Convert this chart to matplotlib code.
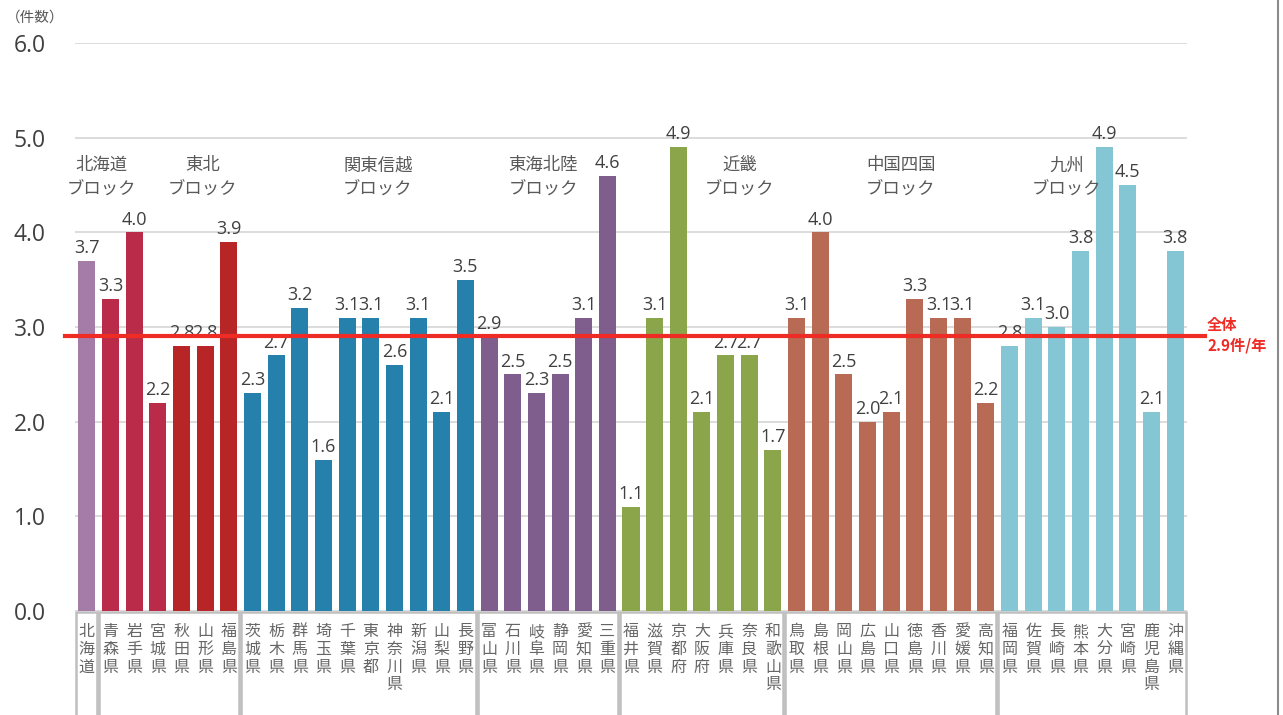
import matplotlib
matplotlib.use("Agg")
import matplotlib.pyplot as plt
import matplotlib.transforms as mtransforms
from matplotlib.patches import Rectangle

plt.rcParams['font.family'] = ['Noto Sans CJK JP', 'DejaVu Sans']
NUM_FONT = ['Open Sans', 'DejaVu Sans']

prefectures = ["北海道",
               "青森県", "岩手県", "宮城県", "秋田県", "山形県", "福島県",
               "茨城県", "栃木県", "群馬県", "埼玉県", "千葉県", "東京都", "神奈川県", "新潟県", "山梨県", "長野県",
               "富山県", "石川県", "岐阜県", "静岡県", "愛知県", "三重県",
               "福井県", "滋賀県", "京都府", "大阪府", "兵庫県", "奈良県", "和歌山県",
               "鳥取県", "島根県", "岡山県", "広島県", "山口県", "徳島県", "香川県", "愛媛県", "高知県",
               "福岡県", "佐賀県", "長崎県", "熊本県", "大分県", "宮崎県", "鹿児島県", "沖縄県"]
values = [3.7,
          3.3, 4.0, 2.2, 2.8, 2.8, 3.9,
          2.3, 2.7, 3.2, 1.6, 3.1, 3.1, 2.6, 3.1, 2.1, 3.5,
          2.9, 2.5, 2.3, 2.5, 3.1, 4.6,
          1.1, 3.1, 4.9, 2.1, 2.7, 2.7, 1.7,
          3.1, 4.0, 2.5, 2.0, 2.1, 3.3, 3.1, 3.1, 2.2,
          2.8, 3.1, 3.0, 3.8, 4.9, 4.5, 2.1, 3.8]
block_names = ["北海道\nブロック", "東北\nブロック", "関東信越\nブロック", "東海北陸\nブロック",
               "近畿\nブロック", "中国四国\nブロック", "九州\nブロック"]
block_sizes = [1, 6, 10, 6, 7, 9, 8]
block_label_x = [0.6, 4.9, 12.3, 19.3, 27.6, 34.4, 41.4]
bar_colors = (["#A57BA8"] + ["#B92B48"] * 3 + ["#B82526"] * 3 + ["#2680AC"] * 10 + ["#7F5E8E"] * 6
              + ["#8BA64A"] * 7 + ["#B86A55"] * 9 + ["#85C6D4"] * 8)
overall = 2.9
yticks = [0.0, 1.0, 2.0, 3.0, 4.0, 5.0, 6.0]

fig = plt.figure(figsize=(12.83, 7.15), dpi=100)
ax = fig.add_axes([75 / 1283, 104 / 715, 1112 / 1283, 568 / 715])
x = list(range(len(values)))
ax.bar(x, values, width=0.72, color=bar_colors, zorder=2)
ax.set_xlim(-0.5, len(values) - 0.5)
ax.set_ylim(0, 6)
ax.set_yticks(yticks)
ax.set_yticklabels([f"{v:.1f}" for v in yticks], fontsize=16.5, color="#404040", family=NUM_FONT)
ax.tick_params(axis='y', length=0, pad=21)
ax.tick_params(axis='x', length=0, labelbottom=False)
for s in ax.spines.values():
    s.set_visible(False)
ax.grid(axis='y', color="#D9D9D9", linewidth=1.3, zorder=0)
ax.set_axisbelow(True)

for xi, v in zip(x, values):
    ax.text(xi, v + 0.04, f"{v:.1f}", ha='center', va='bottom', fontsize=13, color="#404040",
            family=NUM_FONT, zorder=4)

# category labels (vertical)
for xi, name in zip(x, prefectures):
    ax.text(xi, -0.13, "\n".join(name), ha='center', va='top', fontsize=11.5, color="#666666",
            linespacing=1.05, clip_on=False)

# block boxes and labels
start = 0
for name, size, lx in zip(block_names, block_sizes, block_label_x):
    x0 = start - 0.5 + 0.03
    x1 = start + size - 0.5 - 0.06
    ax.add_patch(Rectangle((x0, -1.3), x1 - x0, 1.3 - 0.01, fill=False, edgecolor="#BFBFBF",
                           linewidth=1.8, clip_on=False, zorder=3))
    ax.text(lx, 4.58, name, ha='center', va='center', fontsize=12.5, color="#595959",
            linespacing=1.45)
    start += size

# overall line
trans = mtransforms.blended_transform_factory(ax.transAxes, ax.transData)
ax.plot([-0.009, 1.0162], [overall, overall], color="#EE2B24", linewidth=3, transform=trans,
        clip_on=False, zorder=5)
ax.text(1.018, overall + 0.12, "全体", transform=trans, color="#EE2B24", fontsize=11,
        fontweight='bold', ha='left', va='center')
ax.text(1.018, overall - 0.1, f"{overall}件/年", transform=trans, color="#EE2B24", fontsize=11,
        fontweight='bold', ha='left', va='center')

fig.text(6 / 1283, 1 - 18 / 715, "（件数）", fontsize=10.5, color="#595959", ha='left', va='center')
fig.add_artist(plt.Line2D([1278 / 1283, 1278 / 1283], [0, 1], color="#8C8C8C", linewidth=1.5,
                          transform=fig.transFigure))

fig.savefig("out.png", dpi=100, facecolor="white")
